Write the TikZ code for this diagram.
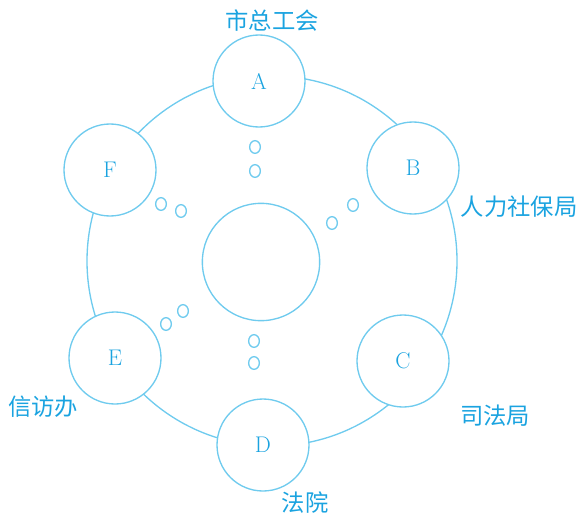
\documentclass[tikz,border=0pt]{standalone}
\usepackage{fontspec}
\newfontfamily\cjk{Noto Sans CJK SC}
\usetikzlibrary{shapes.geometric}
\definecolor{ringblue}{HTML}{6FCBEE}
\definecolor{textblue}{HTML}{1AA3E0}
\tikzset{
  dept/.style={circle, draw=ringblue, fill=white, line width=1pt, minimum size=69pt,
               inner sep=0pt, text=textblue, font=\fontsize{17}{17}\selectfont},
  hub/.style={circle, draw=ringblue, fill=white, line width=1pt, minimum size=88pt,
              inner sep=0pt},
  drop/.style={ellipse, draw=ringblue, line width=1pt, minimum width=8pt,
               minimum height=9.5pt, inner sep=0pt},
  tag/.style={text=textblue, font=\cjk\fontsize{17.5}{17.5}\selectfont, inner sep=0pt},
}

\begin{document}
\begin{tikzpicture}[x=0.75pt,y=-0.75pt]
  \useasboundingbox (0,0) rectangle (581,514);
  % outer ring
  \node[circle, draw=ringblue, line width=1pt, minimum size=277.5pt, inner sep=0pt] (ring) at (272,261) {};
  \node[hub] (hub) at (261,262) {};
  \node[dept] (a) at (259,81) {A};
  \node[dept] (b) at (413,168) {B};
  \node[dept] (c) at (403,361) {C};
  \node[dept] (d) at (263,445) {D};
  \node[dept] (e) at (115,358) {E};
  \node[dept] (f) at (110,170) {F};
  % bubbles
  \node[drop] (a1) at (255,147) {};
  \node[drop] (a2) at (255,171) {};
  \node[drop] (b1) at (353,205) {};
  \node[drop] (b2) at (332,223) {};
  \node[drop] (d1) at (254,341) {};
  \node[drop] (d2) at (254,363) {};
  \node[drop] (e1) at (183,311) {};
  \node[drop] (e2) at (166,324) {};
  \node[drop] (f1) at (161,204) {};
  \node[drop] (f2) at (181,211) {};
  % labels
  \node[tag] (ta) at (272,21) {市总工会};
  \node[tag] (tb) at (519,207) {人力社保局};
  \node[tag] (tc) at (495,416) {司法局};
  \node[tag] (td) at (305,503) {法院};
  \node[tag] (te) at (43,407) {信访办};
\end{tikzpicture}
\end{document}
